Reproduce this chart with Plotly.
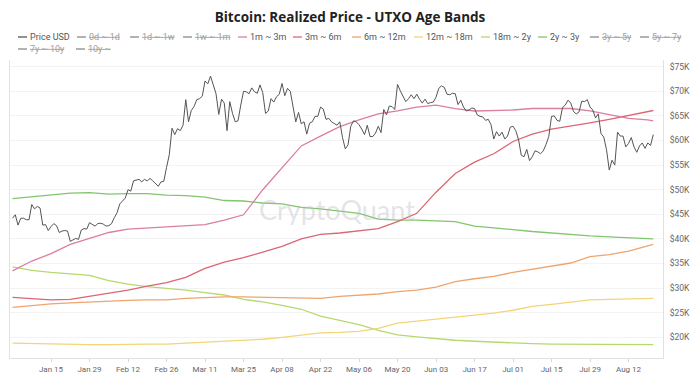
import plotly.graph_objects as go
import pandas as pd

# ---------------- data (USD thousands) ----------------
price_start = "2024-01-01"
price_usd_k = [
    # Jan
    44.2, 44.9, 42.8, 44.2, 44.2, 43.9, 43.9, 47.0, 46.1, 46.6, 46.3, 42.8, 42.9, 41.7, 42.5, 43.1,
    42.7, 41.3, 41.6, 41.7, 41.6, 39.5, 39.8, 40.1, 39.9, 41.8, 42.1, 42.0, 43.3, 42.9, 42.6,
    # Feb
    43.1, 43.2, 43.0, 42.6, 42.7, 43.1, 44.3, 45.3, 47.1, 47.8, 48.3, 50.0, 49.7, 51.8, 52.0,
    52.1, 51.6, 52.1, 51.8, 52.3, 51.8, 51.3, 50.7, 51.6, 51.7, 54.5, 57.1, 62.5, 61.2,
    # Mar
    62.4, 62.0, 63.1, 68.3, 63.8, 66.1, 66.9, 68.3, 68.5, 69.0, 72.1, 71.5, 73.1, 71.4, 69.5, 65.3,
    68.4, 67.6, 62.0, 67.9, 65.5, 63.8, 64.0, 67.2, 70.0, 69.9, 69.5, 70.7, 69.9, 69.6, 71.3,
    # Apr
    69.7, 65.5, 66.0, 68.5, 67.8, 68.9, 69.4, 71.6, 69.1, 70.6, 70.0, 67.2, 63.8, 65.7, 63.4,
    63.8, 61.3, 63.5, 63.8, 64.9, 64.9, 66.8, 66.4, 64.3, 64.5, 63.8, 63.4, 63.1, 63.8, 60.6,
    # May
    58.3, 59.1, 62.9, 64.0, 63.8, 63.2, 62.3, 61.2, 63.1, 60.8, 60.8, 61.5, 62.9, 61.6, 66.3, 65.2,
    67.0, 66.9, 66.3, 71.4, 70.1, 69.1, 67.9, 68.5, 69.3, 68.5, 69.4, 68.4, 67.6, 68.4, 67.5,
    # Jun
    67.7, 67.8, 68.8, 70.6, 71.1, 70.8, 69.4, 69.3, 69.6, 69.5, 67.3, 68.2, 66.8, 66.0, 66.2,
    66.6, 66.5, 65.2, 64.9, 64.8, 64.1, 64.3, 63.2, 60.3, 61.8, 60.9, 61.7, 60.3, 60.9, 62.7,
    # Jul
    62.9, 62.0, 60.2, 57.0, 56.7, 58.2, 55.9, 56.7, 57.9, 57.7, 57.3, 57.9, 59.2, 60.8, 64.9, 65.0,
    64.1, 63.9, 66.7, 67.2, 68.2, 67.6, 65.9, 65.4, 65.8, 68.0, 67.9, 68.3, 66.8, 66.2, 64.6,
    # Aug
    65.4, 61.4, 60.7, 58.1, 54.0, 56.0, 55.0, 61.7, 60.9, 60.9, 58.7, 59.4, 60.6, 58.7, 57.6,
    58.9, 59.5, 58.4, 59.5, 59.0, 61.2,
]

band_dates = [
    "2024-01-01", "2024-01-08", "2024-01-15", "2024-01-22", "2024-01-29", "2024-02-05", "2024-02-12",
    "2024-02-19", "2024-02-26", "2024-03-04", "2024-03-11", "2024-03-18", "2024-03-25", "2024-04-01",
    "2024-04-08", "2024-04-15", "2024-04-22", "2024-04-29", "2024-05-06", "2024-05-13", "2024-05-20",
    "2024-05-27", "2024-06-03", "2024-06-10", "2024-06-17", "2024-06-24", "2024-07-01", "2024-07-08",
    "2024-07-15", "2024-07-22", "2024-07-29", "2024-08-05", "2024-08-12", "2024-08-19", "2024-08-21",
]
band_1m_3m = [33.5, 35.5, 37.0, 38.9, 40.1, 41.3, 42.0, 42.2, 42.4, 42.6, 42.9, 43.8, 44.9, 50.0,
              54.5, 58.9, 60.9, 62.8, 64.2, 65.4, 66.0, 66.8, 67.2, 66.5, 66.0, 66.1, 66.2, 66.5,
              66.5, 66.5, 66.0, 65.2, 64.5, 64.2, 64.0]
band_3m_6m = [28.1, 27.8, 27.6, 27.7, 28.3, 29.0, 29.6, 30.4, 31.1, 32.2, 34.0, 35.3, 36.2, 37.3,
              38.5, 40.0, 40.9, 41.2, 41.6, 42.1, 43.5, 45.2, 49.5, 53.3, 55.6, 57.3, 59.8, 61.3,
              62.3, 62.9, 63.6, 64.3, 65.1, 65.9, 66.1]
band_6m_12m = [26.1, 26.5, 26.8, 27.0, 27.2, 27.4, 27.5, 27.6, 27.6, 27.9, 28.1, 28.2, 28.2, 28.1,
               28.0, 27.9, 27.9, 28.3, 28.5, 28.8, 29.3, 29.6, 30.2, 31.3, 31.9, 32.4, 33.2, 33.8,
               34.5, 35.1, 36.4, 36.8, 37.5, 38.5, 38.9]
band_12m_18m = [18.8, 18.7, 18.6, 18.5, 18.5, 18.5, 18.6, 18.6, 18.6, 18.8, 19.0, 19.2, 19.4, 19.6,
                20.0, 20.5, 20.9, 21.0, 21.2, 21.8, 22.9, 23.3, 23.7, 24.1, 24.5, 24.9, 25.5, 26.3,
                26.7, 27.1, 27.6, 27.7, 27.8, 27.9, 27.9]
band_18m_2y = [34.3, 33.6, 33.2, 32.9, 32.6, 31.5, 30.8, 30.3, 30.0, 29.6, 29.1, 28.6, 27.7, 27.2,
               26.5, 25.7, 24.3, 23.5, 22.6, 21.4, 20.5, 20.1, 19.7, 19.4, 19.2, 19.0, 18.8, 18.7,
               18.6, 18.6, 18.6, 18.6, 18.5, 18.5, 18.5]
band_2y_3y = [48.2, 48.6, 49.0, 49.3, 49.4, 49.1, 49.2, 49.2, 48.9, 48.8, 48.5, 47.8, 47.7, 47.3,
              47.1, 46.4, 46.1, 45.7, 45.2, 44.0, 43.8, 43.8, 43.7, 43.5, 42.6, 42.3, 41.9, 41.5,
              41.2, 40.8, 40.6, 40.4, 40.2, 40.0, 40.0]

legend_names = ["Price USD", "0d ~ 1d", "1d ~ 1w", "1w ~ 1m", "1m ~ 3m", "3m ~ 6m", "6m ~ 12m",
                "12m ~ 18m", "18m ~ 2y", "2y ~ 3y", "3y ~ 5y", "5y ~ 7y", "7y ~ 10y", "10y ~"]
legend_hidden = [False, True, True, True, False, False, False, False, False, False, True, True, True, True]

x_tick_dates = ["2024-01-15", "2024-01-29", "2024-02-12", "2024-02-26", "2024-03-11", "2024-03-25",
                "2024-04-08", "2024-04-22", "2024-05-06", "2024-05-20", "2024-06-03", "2024-06-17",
                "2024-07-01", "2024-07-15", "2024-07-29", "2024-08-12"]
y_tick_vals = [20, 25, 30, 35, 40, 45, 50, 55, 60, 65, 70, 75]
y_tick_text = ["$20K", "$25K", "$30K", "$35K", "$40K", "$45K", "$50K", "$55K", "$60K", "$65K", "$70K", "$75K"]

# ---------------- styling ----------------
colors = {
    "Price USD": "#555555",
    "1m ~ 3m": "#dc7ea2",
    "3m ~ 6m": "#dc6672",
    "6m ~ 12m": "#efa46f",
    "12m ~ 18m": "#f2d577",
    "18m ~ 2y": "#b7d86e",
    "2y ~ 3y": "#82c56f",
}
hidden_color = "#8a8a8a"
FONT = "Roboto, Arial, sans-serif"

W, H = 700, 376
L, R, T, B = 10, 37, 60, 18
plot_w, plot_h = W - L - R, H - T - B


def px_to_paper(x, y):
    return (x - L) / plot_w, (H - B - y) / plot_h


fig = go.Figure()

bands = [
    ("2y ~ 3y", band_2y_3y),
    ("18m ~ 2y", band_18m_2y),
    ("12m ~ 18m", band_12m_18m),
    ("6m ~ 12m", band_6m_12m),
    ("3m ~ 6m", band_3m_6m),
    ("1m ~ 3m", band_1m_3m),
]
for name, vals in bands:
    fig.add_trace(go.Scatter(x=pd.to_datetime(band_dates), y=vals, name=name, mode="lines",
                             line=dict(color=colors[name], width=1.3), showlegend=False))

price_dates = pd.date_range(price_start, periods=len(price_usd_k), freq="D")
fig.add_trace(go.Scatter(x=price_dates, y=price_usd_k, name="Price USD", mode="lines",
                         line=dict(color=colors["Price USD"], width=1), showlegend=False))

# ---------------- legend (short line symbols + text) ----------------
legend_text_x = [30, 89, 142, 195, 250, 305, 364, 426, 493, 550, 602, 652, 30, 88]
legend_row_y = [37, 37, 37, 37, 37, 37, 37, 37, 37, 37, 37, 37, 49, 49]
shapes = []
annotations = []
for name, hid, tx, ty in zip(legend_names, legend_hidden, legend_text_x, legend_row_y):
    col = hidden_color if hid else colors[name]
    x0, y0 = px_to_paper(tx - 12, ty)
    x1, _ = px_to_paper(tx - 3, ty)
    shapes.append(dict(type="line", xref="paper", yref="paper", x0=x0, x1=x1, y0=y0, y1=y0,
                       line=dict(color=col, width=1.3)))
    xa, ya = px_to_paper(tx - 1, ty)
    label = f"<s>{name}</s>" if hid else name
    annotations.append(dict(xref="paper", yref="paper", x=xa, y=ya, xanchor="left", yanchor="middle",
                            text=label, showarrow=False, borderpad=0,
                            font=dict(family=FONT, size=9, color="#a0a0a0" if hid else "#555555")))

# watermark
wx, wy = px_to_paper(337, 209)
annotations.append(dict(xref="paper", yref="paper", x=wx, y=wy, xanchor="center", yanchor="middle",
                        text="CryptoQuant", showarrow=False,
                        font=dict(family="Lato, sans-serif", size=27, color="rgba(185,185,195,0.40)")))

fig.update_layout(
    width=W, height=H,
    margin=dict(l=L, r=R, t=T, b=B),
    paper_bgcolor="white", plot_bgcolor="white",
    showlegend=False,
    title=dict(text="<b>Bitcoin: Realized Price - UTXO Age Bands</b>", x=0.5, xanchor="center",
               xref="container", y=1 - 17 / H, yref="container", yanchor="middle",
               font=dict(family="Open Sans, sans-serif", size=13.5, color="#222222")),
    font=dict(family=FONT, size=8, color="#666666"),
    shapes=shapes,
    annotations=annotations,
)

start = pd.Timestamp("2024-01-01") - pd.Timedelta(hours=22)
end = start + pd.Timedelta(days=plot_w / 2.75)
fig.update_xaxes(
    type="date", range=[start, end],
    tickvals=pd.to_datetime(x_tick_dates), tickformat="%b %d", tickangle=0,
    showgrid=False, showline=True, linecolor="#e2e2e2", linewidth=1,
    ticks="outside", ticklen=3, tickcolor="#d8d8d8",
    tickfont=dict(family=FONT, size=8, color="#666666"),
    zeroline=False, automargin=False,
)
fig.update_yaxes(
    range=[20 - (H - B - 337.3) / 4.92, 20 - (H - B - 337.3) / 4.92 + plot_h / 4.92],
    side="right", tickvals=y_tick_vals, ticktext=y_tick_text,
    showgrid=True, gridcolor="#f3f3f3", gridwidth=1,
    showline=True, linecolor="#e2e2e2", linewidth=1, mirror=True,
    ticks="", ticklabelstandoff=4,
    tickfont=dict(family=FONT, size=8.5, color="#666666"),
    zeroline=False, automargin=False,
)

fig.write_html("out.html", config={"displayModeBar": False},
               post_script="document.body.style.margin='0';")
